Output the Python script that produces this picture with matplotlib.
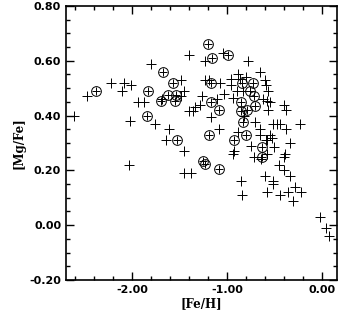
import numpy as np
import matplotlib
matplotlib.use('Agg')
import matplotlib.pyplot as plt
from matplotlib.ticker import MultipleLocator, FormatStrFormatter

# stars with a circled plus
fe_circ = [-2.38, -1.84, -1.85, -1.53, -1.68, -1.57, -1.70, -1.62, -1.54, -1.55,
           -1.20, -1.16, -0.99, -1.17, -0.84, -0.73, -0.76, -0.72, -0.71,
           -1.17, -1.09, -0.86, -0.86, -0.79, -0.83, -1.19, -0.93, -0.80,
           -0.63, -0.63, -1.26, -1.23, -1.09]
mg_circ = [0.49, 0.49, 0.40, 0.31, 0.56, 0.52, 0.455, 0.475, 0.475, 0.455,
           0.66, 0.61, 0.62, 0.52, 0.52, 0.52, 0.49, 0.47, 0.435,
           0.45, 0.42, 0.45, 0.415, 0.42, 0.375, 0.33, 0.31, 0.33,
           0.285, 0.25, 0.235, 0.225, 0.205]

# other stars (plus only)
fe_plus = [-2.62, -2.48, -2.23, -2.09, -2.11, -2.02, -2.03, -2.04, -1.80, -1.94,
           -1.88, -1.76, -1.61, -1.65, -1.69, -1.49, -1.49, -1.46, -1.40, -1.46,
           -1.46, -1.38,
           -1.24, -1.04, -0.78, -0.66, -0.89, -1.23, -1.19, -1.08, -0.96, -0.87,
           -0.80, -0.60, -0.59, -0.57, -1.03, -0.94, -0.83, -0.90, -1.27, -1.11,
           -1.34, -1.29, -1.36, -1.40, -0.96, -0.62, -0.58, -0.55, -0.57, -0.40,
           -0.38, -1.17, -0.82, -0.52, -0.48, -0.44, -0.23, -0.71, -0.38, -0.66,
           -1.09, -0.65, -0.55, -0.53, -0.58, -0.89, -0.75,
           -0.94, -0.93, -0.72, -0.58, -0.64, -0.59, -0.51, -0.34, -0.39, -0.40,
           -0.46, -0.40, -0.34, -0.60, -0.52, -0.52, -0.86, -0.84, -0.58, -0.44,
           -0.36, -0.29, -0.22, -0.31, -0.02, 0.04, 0.07]
mg_plus = [0.40, 0.47, 0.52, 0.52, 0.49, 0.51, 0.38, 0.22, 0.59, 0.45,
           0.45, 0.37, 0.35, 0.31, 0.46, 0.53, 0.47, 0.49, 0.62, 0.27,
           0.19, 0.19,
           0.60, 0.63, 0.60, 0.56, 0.55, 0.53, 0.53, 0.52, 0.535, 0.535,
           0.54, 0.53, 0.51, 0.49, 0.48, 0.465, 0.49, 0.49, 0.47, 0.46,
           0.43, 0.44, 0.415, 0.415, 0.51, 0.46, 0.455, 0.45, 0.42, 0.44,
           0.42, 0.395, 0.40, 0.37, 0.37, 0.37, 0.37, 0.375, 0.35, 0.35,
           0.35, 0.33, 0.33, 0.32, 0.31, 0.34, 0.29,
           0.26, 0.27, 0.25, 0.26, 0.24, 0.31, 0.285, 0.30, 0.26, 0.25,
           0.22, 0.20, 0.18, 0.18, 0.16, 0.15, 0.16, 0.11, 0.12, 0.11,
           0.12, 0.14, 0.12, 0.09, 0.03, -0.01, -0.04]

fig = plt.figure(figsize=(3.42, 3.16), dpi=100)
ax = fig.add_axes([0.193, 0.114, 0.792, 0.867])

ax.plot(fe_plus, mg_plus, '+', color='k', ms=7, mew=0.7)
ax.plot(fe_circ, mg_circ, '+', color='k', ms=6, mew=0.7)
ax.plot(fe_circ, mg_circ, 'o', mfc='none', mec='k', ms=7, mew=0.7)

ax.set_xlim(-2.70, 0.155)
ax.set_ylim(-0.20, 0.80)
ax.xaxis.set_major_locator(MultipleLocator(1.0))
ax.xaxis.set_minor_locator(MultipleLocator(0.2))
ax.yaxis.set_major_locator(MultipleLocator(0.2))
ax.yaxis.set_minor_locator(MultipleLocator(0.05))
ax.xaxis.set_major_formatter(FormatStrFormatter('%.2f'))
ax.yaxis.set_major_formatter(FormatStrFormatter('%.2f'))
ax.tick_params(which='both', direction='in', top=True, right=True, width=1.0)
ax.tick_params(which='major', length=6, labelsize=8)
ax.tick_params(which='minor', length=3)
for lab in ax.get_xticklabels() + ax.get_yticklabels():
    lab.set_fontweight('bold')
for sp in ax.spines.values():
    sp.set_linewidth(1.2)

ax.set_xlabel('[Fe/H]', fontsize=8.5, fontweight='bold', family='DejaVu Serif', labelpad=2)
ax.set_ylabel('[Mg/Fe]', fontsize=8.5, fontweight='bold', family='DejaVu Serif', labelpad=3)

fig.savefig('out.png', dpi=100)
